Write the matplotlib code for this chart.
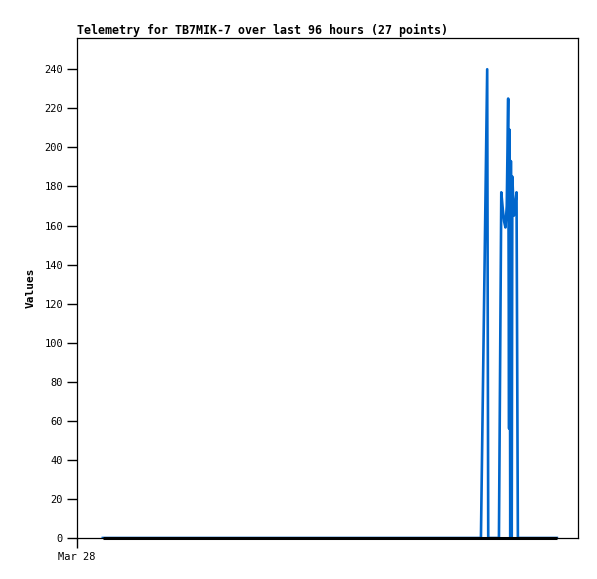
import matplotlib
matplotlib.use("Agg")
import matplotlib.pyplot as plt

# hours since Mar 28 00:00
hours = [4.95, 77.4, 78.6, 78.8,
         80.85, 81.3, 81.6, 81.85, 82.1, 82.35, 82.62, 82.8, 82.9, 83.02,
         83.14, 83.3, 83.42, 83.7, 83.95, 84.22, 84.48,
         86.0, 88.0, 89.5, 90.5, 91.2, 91.95]
values = [0, 0, 240, 0,
          0, 177, 168, 162, 159, 170, 225, 56, 209, 0,
          193, 0, 185, 165, 170, 177, 0,
          0, 0, 0, 0, 0, 0]
zeros = [0] * len(hours)

title = "Telemetry for TB7MIK-7 over last 96 hours (27 points)"
ylabel = "Values"
xtick_pos = [0]
xtick_labels = ["Mar 28"]
ytick_pos = list(range(0, 241, 20))

mono = ["DejaVu Sans Mono"]

fig = plt.figure(figsize=(5.97, 5.79), dpi=100)
ax = fig.add_axes([77/597, 1-538/579, (578-77)/597, (538-38)/579])

ax.plot(hours, values, color="#0066cc", lw=1.9, antialiased=True, zorder=2)
ax.plot(hours, zeros, color="black", lw=2.2, antialiased=True, zorder=4,
        clip_on=False, solid_capstyle="butt")

ax.set_xlim(0, 96)
ax.set_ylim(0, 256)
ax.set_xticks(xtick_pos)
ax.set_xticklabels(xtick_labels, family=mono, fontsize=7.5)
ax.set_yticks(ytick_pos)
ax.set_yticklabels([str(v) for v in ytick_pos], family=mono, fontsize=7.5)
ax.tick_params(axis="both", direction="out", length=7, width=1, color="black", pad=3)

for s in ax.spines.values():
    s.set_linewidth(0.9)
    s.set_color("black")

ax.set_title(title, loc="left", family=mono, fontweight="bold", fontsize=8.35, pad=3)
ax.set_ylabel(ylabel, family=mono, fontweight="bold", fontsize=8, labelpad=6)

fig.savefig("out.png", dpi=100, facecolor="white")
